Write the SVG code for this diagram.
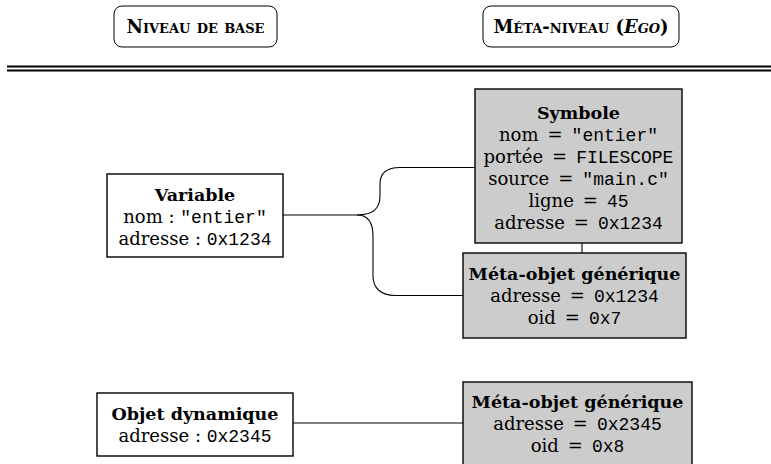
<svg xmlns="http://www.w3.org/2000/svg" width="771" height="464" viewBox="0 0 771 464">
  <style>
    .box { fill: #ffffff; stroke: #000000; stroke-width: 1.4; }
    .gbox { fill: #cccccc; stroke: #000000; stroke-width: 1.4; }
    .hdr { fill: #ffffff; stroke: #000000; stroke-width: 1; }
    .rule { stroke: #000000; stroke-width: 1.8; }
    .wire { fill: none; stroke: #000000; stroke-width: 1.1; }
    text { font-family: "DejaVu Serif", "Liberation Serif", serif; font-size: 18px; fill: #000000; text-anchor: middle; }
    .t { font-weight: bold; font-size: 17.5px; }
    .sc { font-weight: bold; font-variant: small-caps; font-size: 18px; }
    .tt { font-family: "Liberation Mono", "DejaVu Sans Mono", monospace; font-size: 18px; }
  </style>

  <!-- column headings -->
  <g id="head-base">
    <rect class="hdr" x="114" y="6" width="163" height="41" rx="8"/>
    <text class="sc" x="195.5" y="33">Niveau de base</text>
  </g>
  <g id="head-meta">
    <rect class="hdr" x="483" y="6" width="196" height="41" rx="8"/>
    <text class="sc" x="581" y="33">Méta-niveau (<tspan font-style="italic">Ego</tspan>)</text>
  </g>

  <!-- double rule under the headings -->
  <line class="rule" x1="7" y1="66.5" x2="771" y2="66.5"/>
  <line class="rule" x1="7" y1="70.5" x2="771" y2="70.5"/>

  <!-- connectors -->
  <g id="connectors">
    <path class="wire" d="M283,215 H357 C374,215 380,208 380,196 V184 C380,172 388,167.5 400,167.5 H475"/>
    <path class="wire" d="M357,215 C368,215 373,222 373,236 V276 C373,288 381,295.5 395,295.5 H463"/>
    <line class="wire" x1="582" y1="243" x2="582" y2="253"/>
    <line class="wire" x1="293" y1="423" x2="463" y2="423"/>
  </g>

  <g id="variable">
    <rect class="box" x="107" y="174" width="176" height="83"/>
    <text class="t" x="195" y="201">Variable</text>
    <text x="195" y="223">nom : <tspan class="tt">"entier"</tspan></text>
    <text x="195" y="245">adresse : <tspan class="tt">0x1234</tspan></text>
  </g>

  <g id="symbole">
    <rect class="gbox" x="475" y="89" width="207" height="154"/>
    <text class="t" x="578.5" y="118.5">Symbole</text>
    <text x="578.5" y="140.5">nom&#8194;=&#8194;<tspan class="tt">"entier"</tspan></text>
    <text x="578.5" y="162.5">portée&#8194;=&#8194;<tspan class="tt">FILESCOPE</tspan></text>
    <text x="578.5" y="184.5">source&#8194;=&#8194;<tspan class="tt">"main.c"</tspan></text>
    <text x="578.5" y="206.5">ligne&#8194;=&#8194;<tspan class="tt">45</tspan></text>
    <text x="578.5" y="228.5">adresse&#8194;=&#8194;<tspan class="tt">0x1234</tspan></text>
  </g>

  <g id="meta-objet-1">
    <rect class="gbox" x="463" y="253" width="223" height="85"/>
    <text class="t" x="574.5" y="280">Méta-objet générique</text>
    <text x="574.5" y="302">adresse&#8194;=&#8194;<tspan class="tt">0x1234</tspan></text>
    <text x="574.5" y="324">oid&#8194;=&#8194;<tspan class="tt">0x7</tspan></text>
  </g>

  <g id="objet-dynamique">
    <rect class="box" x="97" y="393" width="196" height="63"/>
    <text class="t" x="195" y="420">Objet dynamique</text>
    <text x="195" y="442">adresse : <tspan class="tt">0x2345</tspan></text>
  </g>

  <g id="meta-objet-2">
    <rect class="gbox" x="463" y="382" width="229" height="90"/>
    <text class="t" x="577.5" y="408">Méta-objet générique</text>
    <text x="577.5" y="430">adresse&#8194;=&#8194;<tspan class="tt">0x2345</tspan></text>
    <text x="577.5" y="452">oid&#8194;=&#8194;<tspan class="tt">0x8</tspan></text>
  </g>
</svg>
